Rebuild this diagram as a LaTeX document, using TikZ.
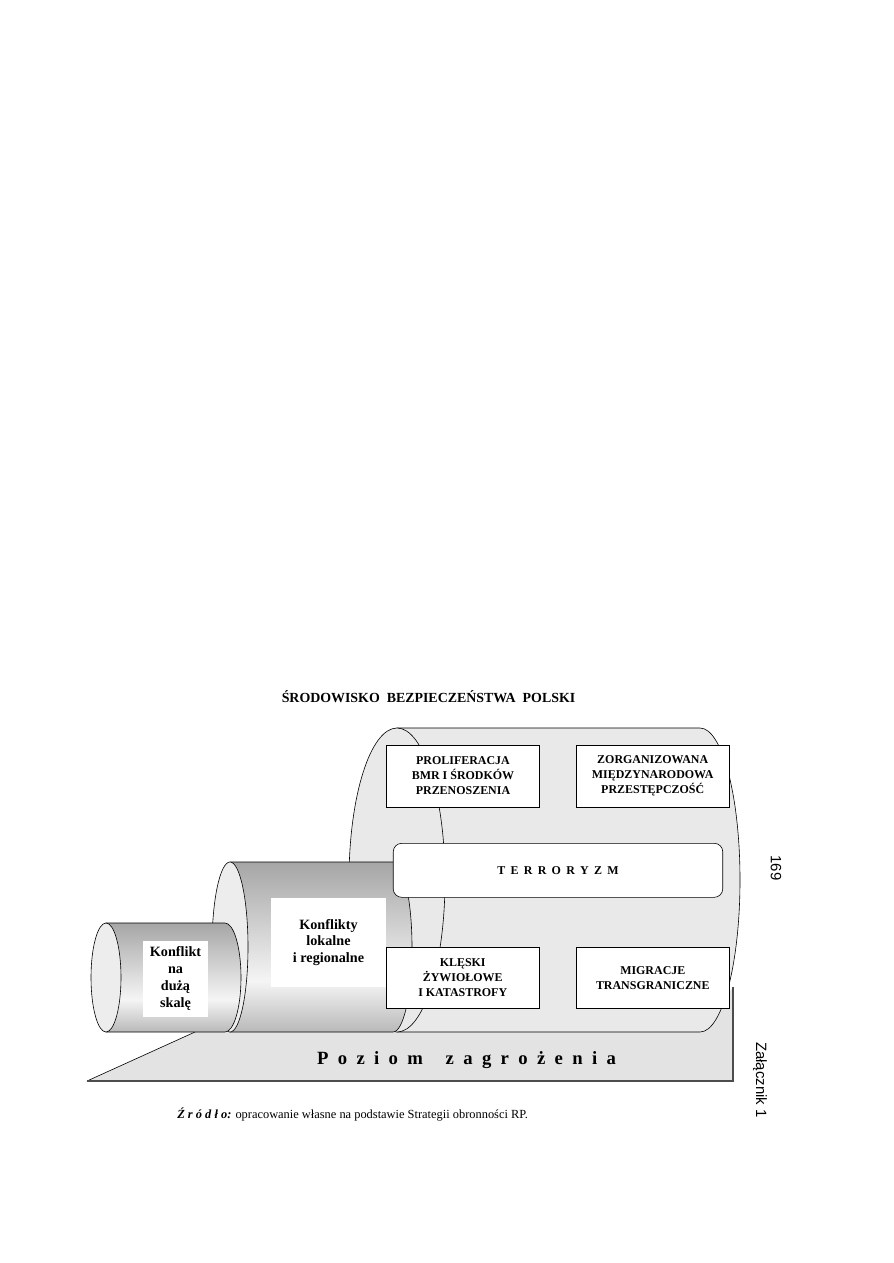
\documentclass[tikz,border=0pt]{standalone}
\usepackage{fontspec}
\setmainfont{Liberation Serif}
\newfontfamily\sidefont{Liberation Sans}
\definecolor{facegray}{HTML}{EDEDED}
\definecolor{biggray}{HTML}{E9E9E9}
\definecolor{floorgray}{HTML}{E3E3E3}
\pgfdeclareverticalshading{cylshade}{100bp}{color(0bp)=(gray!55); color(25bp)=(gray!55); color(40bp)=(gray!8); color(75bp)=(gray!70); color(100bp)=(gray!70)}
\newcommand{\lsp}{\hspace{0.5em}}
\newcommand{\tsp}{\hspace{0.44em}}

\begin{document}
\begin{tikzpicture}[x=0.2352mm, y=0.2352mm,
    threat/.style={draw, fill=white, align=center, inner sep=0pt,
        font=\fontsize{8}{10}\selectfont\bfseries,
        minimum width=35.9mm, minimum height=14.5mm},
    cyllabel/.style={fill=white, align=center, inner sep=0pt,
        font=\fontsize{9.5}{11.3}\selectfont\bfseries}]
    \useasboundingbox (0,0) rectangle (893,-1263);

    % floor
    \coordinate (F1) at (87,-1081);
    \coordinate (F2) at (195,-1032);
    \coordinate (F3) at (700,-1032);
    \coordinate (F4) at (733,-987);
    \coordinate (F5) at (733,-1081);
    \fill[floorgray] (F1) -- (F2) -- (F3) -- (F4) -- (F5) -- cycle;
    \draw (F1) -- (F2);
    \draw[gray!60!black, line width=0.4mm] (F1) -- (F5) -- (F4);

    % large cylinder
    \coordinate (L) at (397,-880);
    \filldraw[fill=biggray] (397,-728) -- (700,-728)
        arc[start angle=90, end angle=-90, x radius=40, y radius=152] -- (397,-1032) -- cycle;
    \filldraw[fill=biggray] (L) ellipse[x radius=48, y radius=152];

    % medium cylinder
    \coordinate (M) at (230,-947);
    \draw[shading=cylshade] (230,-862) -- (393,-862)
        arc[start angle=90, end angle=-90, x radius=19, y radius=85] -- (230,-1032) -- cycle;
    \filldraw[fill=facegray] (M) ellipse[x radius=18, y radius=85];

    % small cylinder
    \coordinate (S) at (106,-977.5);
    \draw[shading=cylshade] (106,-923) -- (225,-923)
        arc[start angle=90, end angle=-90, x radius=16, y radius=54.5] -- (106,-1032) -- cycle;
    \filldraw[fill=facegray] (S) ellipse[x radius=15, y radius=54.5];

    % labels on the cylinders
    \node[cyllabel, minimum width=15.4mm, minimum height=17.9mm] (duza) at (175.5,-978.7)
        {Konflikt\\na\\dużą\\skalę};
    \node[cyllabel, minimum width=27mm, minimum height=20.9mm] (lokalne) at (328.5,-942.5)
        {Konflikty\\lokalne\\i regionalne};

    % threats
    \node[threat] (prolif) at (463,-776) {PROLIFERACJA\\BMR I  ŚRODKÓW\\PRZENOSZENIA};
    \node[threat] (przest) at (652.7,-776) {ZORGANIZOWANA\\MIĘDZYNARODOWA\\PRZESTĘPCZOŚĆ};
    \node[threat, rounded corners=2mm, minimum width=77.5mm, minimum height=12.7mm] (terror) at (558,-870.3)
        {T\tsp E\tsp R\tsp R\tsp O\tsp R\tsp Y\tsp Z\tsp M};
    \node[threat] (kleski) at (462.7,-977.8) {KLĘSKI\\ŻYWIOŁOWE\\I KATASTROFY};
    \node[threat] (migr) at (652.8,-977.8) {MIGRACJE\\TRANSGRANICZNE};

    % texts
    \node[font=\fontsize{9.3}{11}\selectfont\bfseries] (title) at (428.5,-697)
        {ŚRODOWISKO\ \ BEZPIECZEŃSTWA\ \ POLSKI};
    \node[font=\fontsize{12.5}{15}\selectfont\bfseries] (poziom) at (466.5,-1060)
        {P\lsp o\lsp z\lsp i\lsp o\lsp m\hspace{1.22em}z\lsp a\lsp g\lsp r\lsp o\lsp ż\lsp e\lsp n\lsp i\lsp a};
    \node[anchor=west, inner sep=0pt, font=\fontsize{8.3}{10}\selectfont] (zrodlo) at (177,-1115)
        {\textbf{\textit{Ź r ó d ł o:}} opracowanie własne na podstawie Strategii obronności RP.};
    \node[rotate=-90, font=\sidefont\fontsize{10}{12}\selectfont] (strona) at (776,-868) {169};
    \node[rotate=-90, font=\sidefont\fontsize{10}{12}\selectfont] (zalacznik) at (760,-1080) {Załącznik 1};
\end{tikzpicture}
\end{document}
